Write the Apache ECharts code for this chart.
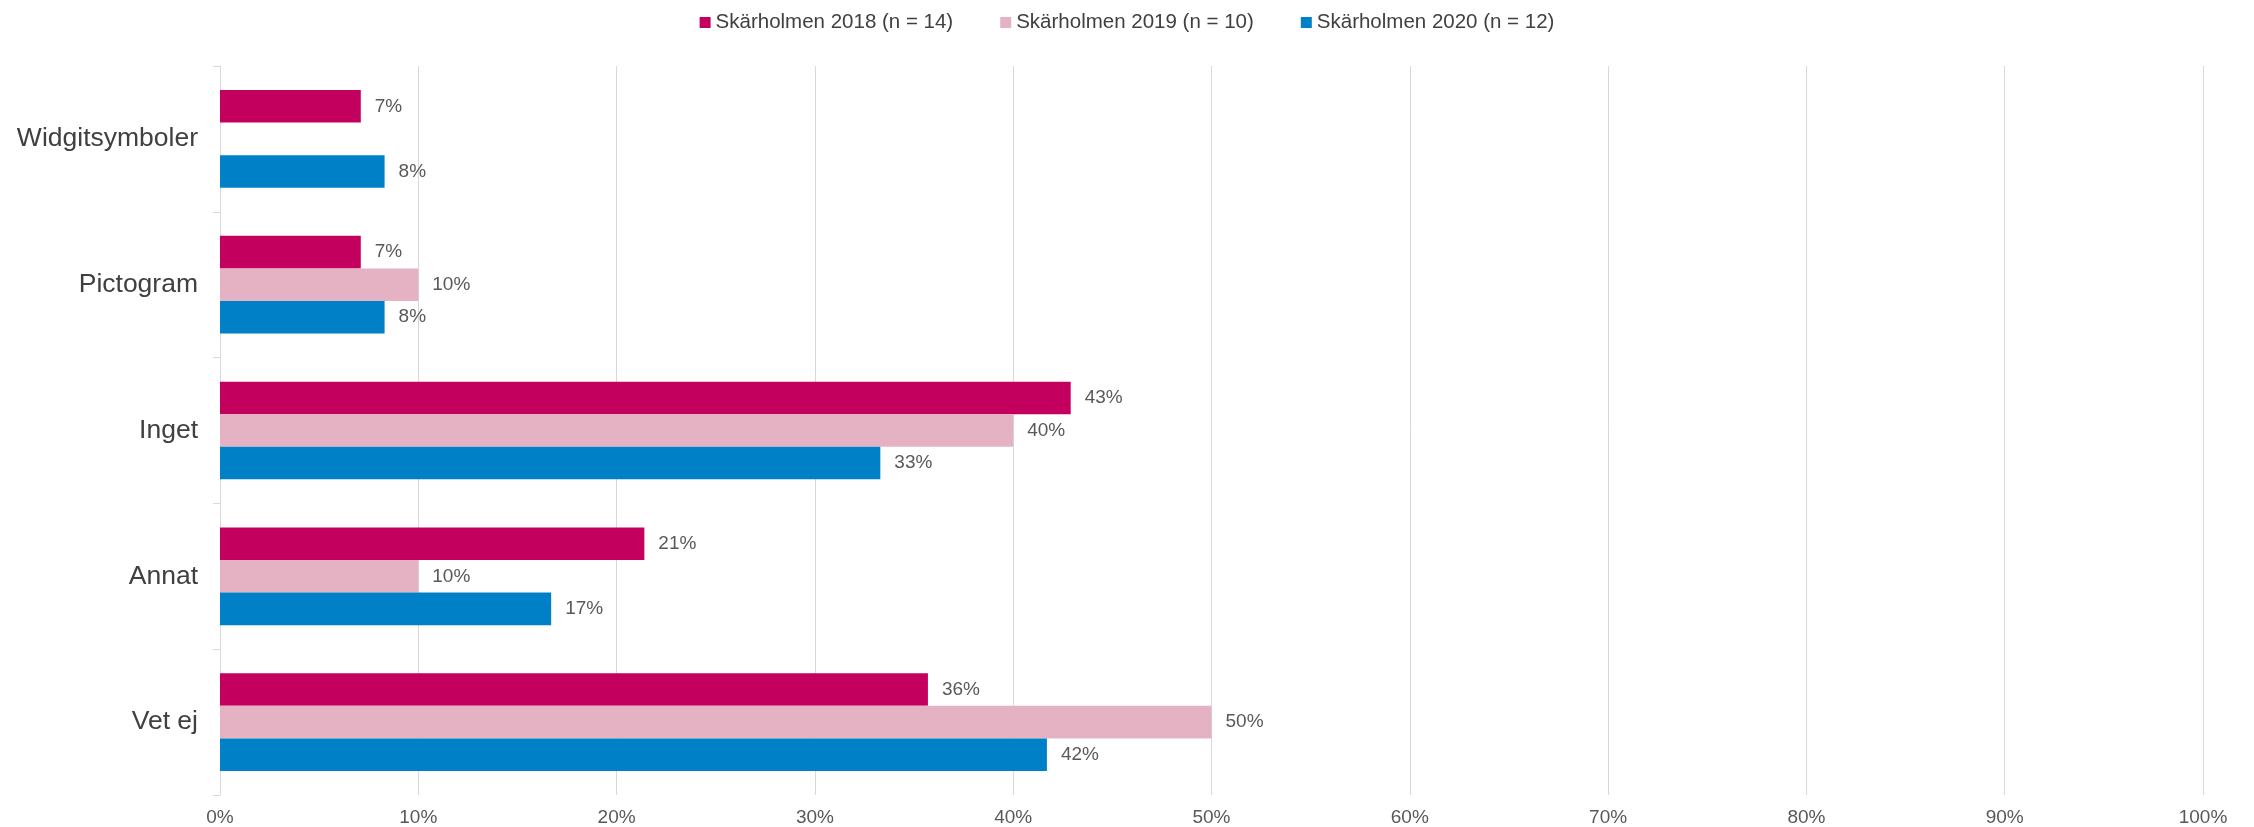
<!DOCTYPE html>
<html>
<head>
<meta charset="utf-8">
<script src="https://cdn.jsdelivr.net/npm/echarts@6/dist/echarts.min.js"></script>
<style>
html,body{margin:0;padding:0;background:#fff;}
#chart{width:2254px;height:827px;}
</style>
</head>
<body>
<div id="chart"></div>
<script>
var categories = ['Widgitsymboler', 'Pictogram', 'Inget', 'Annat', 'Vet ej'];
var seriesNames = ['Skärholmen 2018 (n = 14)', 'Skärholmen 2019 (n = 10)', 'Skärholmen 2020 (n = 12)'];
var values2018 = [7.1, 7.1, 42.9, 21.4, 35.7];
var values2019 = [null, 10, 40, 10, 50];
var values2020 = [8.3, 8.3, 33.3, 16.7, 41.7];
var xTicks = [0, 10, 20, 30, 40, 50, 60, 70, 80, 90, 100];
var colors = ['#C4005F', '#E5B2C3', '#0080C6'];

var FONT = '"Liberation Sans", Arial, sans-serif';
var chart = echarts.init(document.getElementById('chart'), null, {renderer: 'canvas'});

function mk(name, data, color) {
  return {
    name: name,
    type: 'bar',
    data: data,
    barGap: '0%',
    barCategoryGap: '33%',
    itemStyle: {color: color},
    label: {
      show: true,
      position: 'right',
      distance: 14,
      fontFamily: FONT,
      fontSize: 19,
      color: '#595959',
      formatter: function (p) { return p.value == null ? '' : Math.round(p.value) + '%'; }
    },
    emphasis: {disabled: true}
  };
}

chart.setOption({
  animation: false,
  textStyle: {fontFamily: FONT},
  legend: {
    top: 7,
    left: 'center',
    itemWidth: 11,
    itemHeight: 11,
    itemGap: 47,
    icon: 'rect',
    textStyle: {fontFamily: FONT, fontSize: 20.5, color: '#404040'},
    data: seriesNames
  },
  grid: {left: 220, right: 51, top: 66, bottom: 31, containLabel: false},
  xAxis: {
    type: 'value',
    min: xTicks[0],
    max: xTicks[xTicks.length - 1],
    interval: 10,
    axisLine: {show: false},
    axisTick: {show: false},
    splitLine: {show: true, lineStyle: {color: '#D9D9D9', width: 1}},
    axisLabel: {
      fontFamily: FONT, fontSize: 19, color: '#595959', margin: 13,
      formatter: function (v) { return v + '%'; }
    }
  },
  yAxis: {
    type: 'category',
    data: categories,
    inverse: true,
    axisLine: {show: true, lineStyle: {color: '#D9D9D9', width: 1}},
    axisTick: {show: true, length: 7, lineStyle: {color: '#D9D9D9'}},
    axisLabel: {fontFamily: FONT, fontSize: 26.5, color: '#404040', margin: 22}
  },
  series: [
    mk(seriesNames[0], values2018, colors[0]),
    mk(seriesNames[1], values2019, colors[1]),
    mk(seriesNames[2], values2020, colors[2])
  ]
});
</script>
</body>
</html>
